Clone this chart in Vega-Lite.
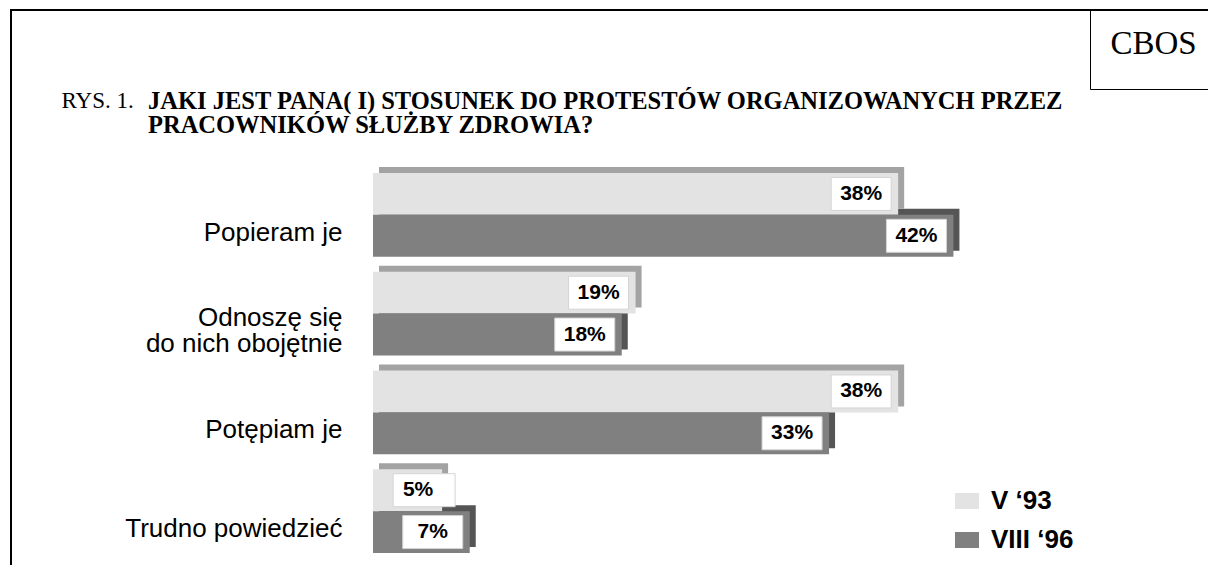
{
  "$schema": "https://vega.github.io/schema/vega-lite/v6.json",
  "width": 1205,
  "height": 565,
  "autosize": {"type": "none"},
  "padding": {"left": 11, "top": 10, "right": 0, "bottom": 0},
  "background": "white",
  "config": {
    "view": {"stroke": "black", "strokeWidth": 2},
    "font": "Liberation Sans"
  },
  "title": {
    "text": ["JAKI JEST PANA( I) STOSUNEK DO PROTESTÓW ORGANIZOWANYCH PRZEZ", "PRACOWNIKÓW SŁUŻBY ZDROWIA?"],
    "anchor": "start",
    "frame": "group",
    "orient": "top",
    "font": "Liberation Serif",
    "fontSize": 24.5,
    "fontWeight": "bold",
    "color": "black",
    "lineHeight": 24,
    "dx": 137,
    "offset": -129
  },
  "data": {
    "values": [
      {"cat": "Popieram je", "s": "V ‘93", "v": 38, "lbl": "38%"},
      {"cat": "Popieram je", "s": "VIII ‘96", "v": 42, "lbl": "42%"},
      {"cat": "Odnoszę się do nich obojętnie", "s": "V ‘93", "v": 19, "lbl": "19%"},
      {"cat": "Odnoszę się do nich obojętnie", "s": "VIII ‘96", "v": 18, "lbl": "18%"},
      {"cat": "Potępiam je", "s": "V ‘93", "v": 38, "lbl": "38%"},
      {"cat": "Potępiam je", "s": "VIII ‘96", "v": 33, "lbl": "33%"},
      {"cat": "Trudno powiedzieć", "s": "V ‘93", "v": 5, "lbl": "5%"},
      {"cat": "Trudno powiedzieć", "s": "VIII ‘96", "v": 7, "lbl": "7%"}
    ]
  },
  "resolve": {"scale": {"x": "independent", "y": "independent"}},
  "layer": [
    {
      "transform": [{"filter": {"field": "s", "equal": "VIII ‘96"}}],
      "mark": {"type": "bar", "color": "#555555"},
      "encoding": {
        "x": {"field": "v", "type": "quantitative", "scale": {"domain": [0, 50], "range": [368, 1059]}, "axis": null},
        "y": {"field": "cat", "type": "nominal", "scale": {"domain": ["Popieram je", "Odnoszę się do nich obojętnie", "Potępiam je", "Trudno powiedzieć"], "range": [157, 537], "paddingInner": 0.152, "paddingOuter": 0}, "axis": null},
        "yOffset": {"field": "s", "type": "nominal", "scale": {"domain": ["V ‘93", "VIII ‘96"], "paddingInner": 0, "paddingOuter": 0}}
      }
    },
    {
      "transform": [{"filter": {"field": "s", "equal": "V ‘93"}}],
      "mark": {"type": "bar", "color": "#a3a3a3"},
      "encoding": {
        "x": {"field": "v", "type": "quantitative", "scale": {"domain": [0, 50], "range": [368, 1059]}, "axis": null},
        "y": {"field": "cat", "type": "nominal", "scale": {"domain": ["Popieram je", "Odnoszę się do nich obojętnie", "Potępiam je", "Trudno powiedzieć"], "range": [157, 537], "paddingInner": 0.152, "paddingOuter": 0}, "axis": null},
        "yOffset": {"field": "s", "type": "nominal", "scale": {"domain": ["V ‘93", "VIII ‘96"], "paddingInner": 0, "paddingOuter": 0}}
      }
    },
    {
      "mark": {"type": "bar"},
      "encoding": {
        "x": {
          "field": "v", "type": "quantitative",
          "scale": {"domain": [0, 50], "range": [362, 1053]},
          "axis": {
            "orient": "top", "labels": false, "ticks": false, "domain": false, "grid": false,
            "title": "RYS. 1.", "titleFont": "Liberation Serif", "titleFontWeight": "normal",
            "titleFontSize": 23, "titleColor": "black", "titleX": 50, "titleY": 97,
            "titleAlign": "left", "titleAnchor": "start", "titleBaseline": "alphabetic"
          }
        },
        "y": {
          "field": "cat", "type": "nominal",
          "scale": {"domain": ["Popieram je", "Odnoszę się do nich obojętnie", "Potępiam je", "Trudno powiedzieć"], "range": [163, 543], "paddingInner": 0.152, "paddingOuter": 0},
          "axis": {
            "orient": "left", "offset": -331, "domain": false, "ticks": false, "tickSize": 0, "grid": false,
            "labelPadding": 0, "labelFont": "Liberation Sans", "labelFontSize": 26, "labelColor": "black",
            "labelAlign": "right", "labelBaseline": "middle",
            "labelOffset": {"condition": {"test": "datum.value == 'Odnoszę się do nich obojętnie'", "value": 4}, "value": 18},
            "labelLimit": 400, "labelLineHeight": 26, "labelOverlap": false, "title": null,
            "labelExpr": "datum.value == 'Odnoszę się do nich obojętnie' ? ['Odnoszę się', 'do nich obojętnie'] : datum.value"
          }
        },
        "yOffset": {"field": "s", "type": "nominal", "scale": {"domain": ["V ‘93", "VIII ‘96"], "paddingInner": 0, "paddingOuter": 0}},
        "fill": {
          "field": "s", "type": "nominal",
          "scale": {"domain": ["V ‘93", "VIII ‘96"], "range": ["#e3e3e3", "#808080"]},
          "legend": {
            "orient": "none", "legendX": 943, "legendY": 478, "title": null,
            "symbolType": "M-1,-0.667H1V0.667H-1Z", "symbolSize": 576, "symbolStrokeWidth": 0,
            "labelFont": "Liberation Sans", "labelFontWeight": "bold", "labelFontSize": 26,
            "labelColor": "black", "labelOffset": 11, "rowPadding": 13
          }
        },
        "opacity": {
          "datum": "CBOS", "type": "nominal",
          "scale": {"range": [1, 1]},
          "legend": {
            "orient": "none", "legendX": 1079, "legendY": 0, "title": null, "padding": 27.5,
            "strokeColor": "black", "symbolSize": 0, "symbolOpacity": 0, "symbolStrokeWidth": 0,
            "labelFont": "Liberation Serif", "labelFontSize": 33, "labelColor": "black",
            "labelOffset": -40, "labelBaseline": "alphabetic",
            "encode": {
              "legend": {"update": {"strokeWidth": {"value": 2}}}
            }
          }
        }
      }
    },
    {
      "transform": [{"filter": {"field": "v", "gte": 6}}],
      "mark": {"type": "bar", "fill": "white", "stroke": "#d4d4d4", "strokeWidth": 1, "height": 33, "xOffset": -67, "x2Offset": -7},
      "encoding": {
        "x": {"field": "v", "type": "quantitative", "scale": {"domain": [0, 50], "range": [362, 1053]}, "axis": null},
        "x2": {"field": "v"},
        "y": {"field": "cat", "type": "nominal", "scale": {"domain": ["Popieram je", "Odnoszę się do nich obojętnie", "Potępiam je", "Trudno powiedzieć"], "range": [163, 543], "paddingInner": 0.152, "paddingOuter": 0}, "axis": null},
        "yOffset": {"field": "s", "type": "nominal", "scale": {"domain": ["V ‘93", "VIII ‘96"], "paddingInner": 0, "paddingOuter": 0}}
      }
    },
    {
      "transform": [{"filter": {"field": "v", "lt": 6}}],
      "mark": {"type": "bar", "fill": "white", "stroke": "#d4d4d4", "strokeWidth": 1, "height": 33, "xOffset": -49, "x2Offset": 13},
      "encoding": {
        "x": {"field": "v", "type": "quantitative", "scale": {"domain": [0, 50], "range": [362, 1053]}, "axis": null},
        "x2": {"field": "v"},
        "y": {"field": "cat", "type": "nominal", "scale": {"domain": ["Popieram je", "Odnoszę się do nich obojętnie", "Potępiam je", "Trudno powiedzieć"], "range": [163, 543], "paddingInner": 0.152, "paddingOuter": 0}, "axis": null},
        "yOffset": {"field": "s", "type": "nominal", "scale": {"domain": ["V ‘93", "VIII ‘96"], "paddingInner": 0, "paddingOuter": 0}}
      }
    },
    {
      "transform": [{"filter": {"field": "v", "gte": 6}}],
      "mark": {"type": "text", "font": "Liberation Sans", "fontWeight": "bold", "fontSize": 21, "color": "black", "dx": -37, "align": "center", "baseline": "middle"},
      "encoding": {
        "x": {"field": "v", "type": "quantitative", "scale": {"domain": [0, 50], "range": [362, 1053]}, "axis": null},
        "y": {"field": "cat", "type": "nominal", "scale": {"domain": ["Popieram je", "Odnoszę się do nich obojętnie", "Potępiam je", "Trudno powiedzieć"], "range": [163, 543], "paddingInner": 0.152, "paddingOuter": 0}, "axis": null},
        "yOffset": {"field": "s", "type": "nominal", "scale": {"domain": ["V ‘93", "VIII ‘96"], "paddingInner": 0, "paddingOuter": 0}},
        "text": {"field": "lbl"}
      }
    },
    {
      "transform": [{"filter": {"field": "v", "lt": 6}}],
      "mark": {"type": "text", "font": "Liberation Sans", "fontWeight": "bold", "fontSize": 21, "color": "black", "dx": -24, "align": "center", "baseline": "middle"},
      "encoding": {
        "x": {"field": "v", "type": "quantitative", "scale": {"domain": [0, 50], "range": [362, 1053]}, "axis": null},
        "y": {"field": "cat", "type": "nominal", "scale": {"domain": ["Popieram je", "Odnoszę się do nich obojętnie", "Potępiam je", "Trudno powiedzieć"], "range": [163, 543], "paddingInner": 0.152, "paddingOuter": 0}, "axis": null},
        "yOffset": {"field": "s", "type": "nominal", "scale": {"domain": ["V ‘93", "VIII ‘96"], "paddingInner": 0, "paddingOuter": 0}},
        "text": {"field": "lbl"}
      }
    }
  ]
}
